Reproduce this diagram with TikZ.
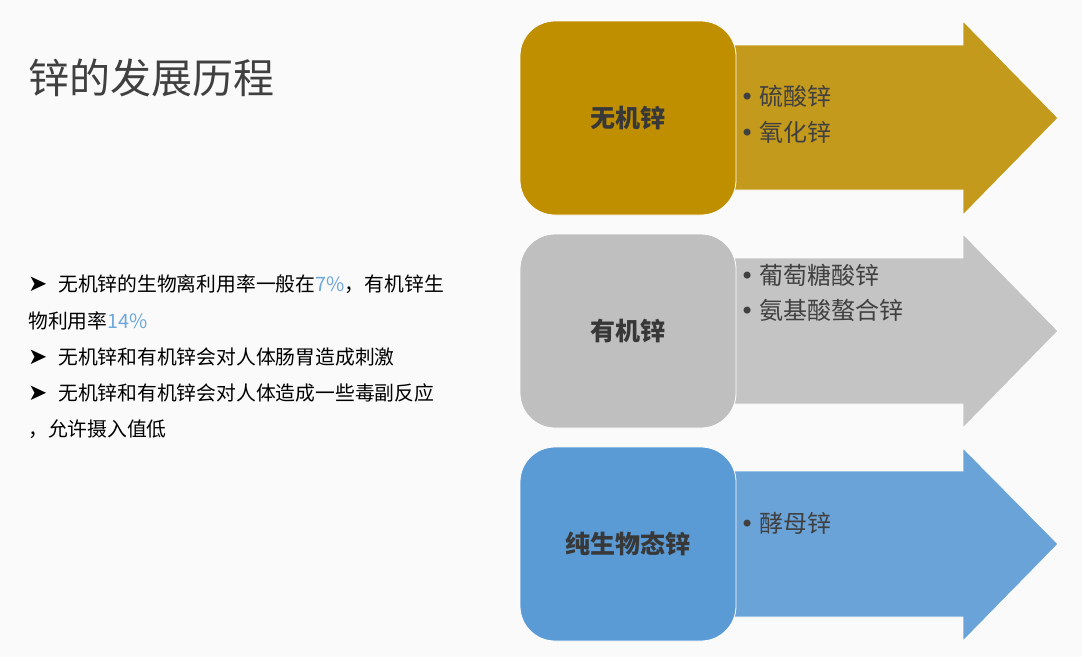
\documentclass[tikz,border=0pt]{standalone}
\usepackage{fontspec}
\setmainfont{Noto Sans CJK SC}
\newfontfamily\symfont{DejaVu Sans}

\definecolor{bgc}{HTML}{FAFAFA}
\definecolor{textc}{HTML}{404040}
\definecolor{labelc}{HTML}{383838}
\definecolor{goldbox}{HTML}{BF8F00}
\definecolor{goldarrow}{HTML}{C49A1C}
\definecolor{graybox}{HTML}{BFBFBF}
\definecolor{grayarrow}{HTML}{C4C4C4}
\definecolor{bluebox}{HTML}{5B9BD5}
\definecolor{bluearrow}{HTML}{6AA3D8}
\definecolor{pctc}{HTML}{6FA8DC}

\newcommand{\pointer}{\makebox[30pt][l]{\symfont\fontsize{23}{24}\selectfont ➤}}
\newcommand{\pct}[1]{\textcolor{pctc}{#1}}
\newcommand{\dotmark}{{\symfont •}\hspace{5pt}}

\tikzset{
  stagebox/.style={rectangle, rounded corners=35pt, minimum width=216pt, minimum height=194pt,
    draw=white, line width=0.8pt, text=labelc, font=\fontsize{25}{30}\selectfont\bfseries},
  arrowline/.style={draw=white, line width=0.8pt},
  item/.style={anchor=base west, inner sep=0pt, text=textc, font=\fontsize{24}{30}\selectfont},
  note/.style={anchor=base west, inner sep=0pt, text=black, font=\fontsize{19.8}{24}\selectfont},
}

\begin{document}
\begin{tikzpicture}[x=1pt,y=-1pt]
	
	% page
	\fill[bgc] (0,0) rectangle (1082,657);
	
	\node[anchor=base west, inner sep=0pt, text=textc, font=\fontsize{41}{48}\selectfont] (title) at (28,93) {锌的发展历程};
	
	% L text
	\node[note] (n1) at (28,291) {\pointer 无机锌的生物离利用率一般在\pct{7\%}，有机锌生};
	\node[note] (n2) at (28,328) {物利用率\pct{14\%}};
	\node[note] (n3) at (28,364) {\pointer 无机锌和有机锌会对人体肠胃造成刺激};
	\node[note] (n4) at (28,400) {\pointer 无机锌和有机锌会对人体造成一些毒副反应};
	\node[note] (n5) at (28,436) {，允许摄入值低};
	
	% the arrows
	\draw[arrowline, fill=goldarrow] (700,45) -- (963,45) -- (963,21) -- (1058,118) -- (963,215) -- (963,190) -- (700,190) -- cycle;
	\draw[arrowline, fill=grayarrow] (700,258) -- (963,258) -- (963,234) -- (1058,331) -- (963,428) -- (963,404) -- (700,404) -- cycle;
	\draw[arrowline, fill=bluearrow] (700,471) -- (963,471) -- (963,448) -- (1058,544) -- (963,641) -- (963,617) -- (700,617) -- cycle;
	
	% the boxes
	\node[stagebox, fill=goldbox] (inorg) at (628,118) {无机锌};
	\node[stagebox, fill=graybox] (org) at (628,331) {有机锌};
	\node[stagebox, fill=bluebox] (bio) at (628,544) {纯生物态锌};
	
	% R,T
	\node[item] (inorg1) at (740,105) {\dotmark 硫酸锌};
	\node[item] (inorg2) at (740,141) {\dotmark 氧化锌};
	%
	\node[item] (org1) at (740,284) {\dotmark 葡萄糖酸锌};
	\node[item] (org2) at (740,319) {\dotmark 氨基酸螯合锌};
	%
	\node[item] (bio1) at (740,532) {\dotmark 酵母锌};
	
\end{tikzpicture}
\end{document}
